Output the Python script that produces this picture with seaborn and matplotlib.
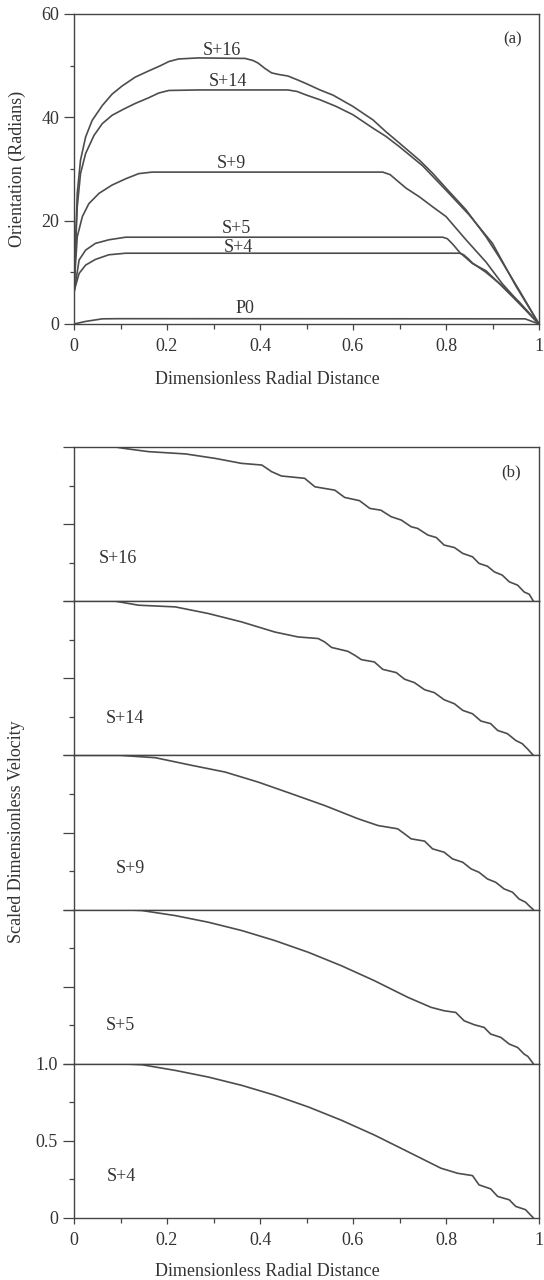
import numpy as np
import pandas as pd
import matplotlib
matplotlib.use("Agg")
import matplotlib.pyplot as plt
import seaborn as sns
from matplotlib.ticker import MultipleLocator, FixedLocator

sns.set_theme(style="ticks")
plt.rcParams['font.family'] = ['Liberation Serif', 'DejaVu Serif']

LINE = '#4d4d4d'
TXT = '#333333'
SPINE = '#444444'
FS = 13

# ---------------- panel (a) data: orientation ----------------
S16_x = [0, 0.004, 0.007, 0.014, 0.025, 0.039, 0.061, 0.082, 0.104, 0.132, 0.161, 0.186, 0.204, 0.225, 0.268, 0.368, 0.385, 0.396, 0.41, 0.425, 0.44, 0.46, 0.482, 0.5, 0.529, 0.557, 0.6, 0.643, 0.671, 0.7, 0.743, 0.771, 0.8, 0.843, 0.886, 0.914, 0.957, 1.0]
S16_y = [6, 17.5, 25.3, 31.7, 36.2, 39.4, 42.3, 44.5, 46.1, 47.8, 49.0, 50.0, 50.8, 51.3, 51.5, 51.4, 51.0, 50.5, 49.5, 48.6, 48.3, 48.0, 47.2, 46.5, 45.3, 44.3, 42.1, 39.5, 37.2, 35, 31.7, 29.2, 26.3, 22.1, 16.9, 13, 6.6, 0]
S14_x = [0, 0.004, 0.007, 0.014, 0.025, 0.043, 0.061, 0.082, 0.107, 0.132, 0.161, 0.182, 0.204, 0.268, 0.46, 0.48, 0.5, 0.529, 0.564, 0.6, 0.643, 0.671, 0.7, 0.75, 0.8, 0.85, 0.9, 0.95, 1.0]
S14_y = [6, 16.3, 22.7, 29.1, 33.0, 36.5, 38.8, 40.4, 41.6, 42.7, 43.8, 44.7, 45.2, 45.3, 45.3, 45.0, 44.3, 43.4, 42.1, 40.5, 37.9, 36.3, 34.3, 30.6, 25.9, 21.1, 15.6, 7.4, 0]
S9_x = [0, 0.002, 0.007, 0.018, 0.032, 0.054, 0.082, 0.111, 0.139, 0.168, 0.664, 0.68, 0.693, 0.714, 0.743, 0.771, 0.8, 0.843, 0.886, 0.921, 0.957, 1.0]
S9_y = [6, 9.8, 16.9, 20.8, 23.3, 25.3, 26.9, 28.1, 29.1, 29.4, 29.4, 28.9, 27.9, 26.3, 24.6, 22.7, 20.8, 16.3, 12.0, 7.8, 4.2, 0]
S5_x = [0, 0.001, 0.011, 0.025, 0.046, 0.075, 0.111, 0.146, 0.793, 0.803, 0.815, 0.829, 0.857, 0.886, 0.914, 0.957, 1.0]
S5_y = [6, 6.6, 12.4, 14.3, 15.6, 16.3, 16.8, 16.8, 16.8, 16.5, 15.4, 13.9, 11.7, 10.3, 7.9, 4, 0]
S4_x = [0, 0.001, 0.011, 0.025, 0.046, 0.075, 0.111, 0.829, 0.838, 0.848, 0.857, 0.886, 0.914, 0.957, 1.0]
S4_y = [6, 6.6, 9.8, 11.4, 12.5, 13.4, 13.7, 13.7, 13.4, 12.6, 11.8, 10.0, 7.9, 4.3, 0]
P0_x = [0, 0.025, 0.061, 0.096, 0.97, 1.0]
P0_y = [0, 0.5, 1.0, 1.03, 1.0, 0]

a_names = ['S+16', 'S+14', 'S+9', 'S+5', 'S+4', 'P0']
a_label_x = [0.318, 0.332, 0.339, 0.35, 0.354, 0.368]
a_label_y = [53.0, 46.9, 31.1, 18.5, 14.8, 3.0]

# ---------------- panel (b) data: scaled velocity ----------------
V16_x = [0, 0.089, 0.11, 0.16, 0.24, 0.304, 0.36, 0.404, 0.425, 0.446, 0.496, 0.518, 0.561, 0.582, 0.614, 0.636, 0.66, 0.682, 0.704, 0.725, 0.739, 0.761, 0.779, 0.796, 0.818, 0.836, 0.857, 0.871, 0.889, 0.904, 0.921, 0.936, 0.954, 0.968, 0.979, 0.988]
V16_y = [1.0, 1.0, 0.99, 0.97, 0.955, 0.926, 0.894, 0.883, 0.84, 0.812, 0.797, 0.742, 0.72, 0.673, 0.652, 0.602, 0.59, 0.548, 0.526, 0.483, 0.472, 0.429, 0.413, 0.364, 0.348, 0.31, 0.288, 0.245, 0.227, 0.19, 0.169, 0.126, 0.104, 0.06, 0.045, 0.0]
V14_x = [0, 0.089, 0.139, 0.218, 0.289, 0.36, 0.432, 0.482, 0.525, 0.539, 0.554, 0.589, 0.604, 0.618, 0.646, 0.664, 0.693, 0.711, 0.732, 0.754, 0.775, 0.796, 0.818, 0.836, 0.857, 0.875, 0.896, 0.911, 0.932, 0.95, 0.964, 0.975, 0.988]
V14_y = [1.0, 1.0, 0.974, 0.963, 0.92, 0.866, 0.8, 0.768, 0.758, 0.736, 0.7, 0.675, 0.649, 0.621, 0.606, 0.558, 0.537, 0.494, 0.472, 0.426, 0.407, 0.361, 0.335, 0.292, 0.27, 0.223, 0.206, 0.162, 0.141, 0.097, 0.076, 0.043, 0.0]
V9_x = [0, 0.1, 0.175, 0.254, 0.325, 0.396, 0.468, 0.539, 0.611, 0.654, 0.696, 0.711, 0.725, 0.754, 0.771, 0.796, 0.814, 0.836, 0.854, 0.871, 0.889, 0.907, 0.925, 0.943, 0.957, 0.971, 0.982, 0.988]
V9_y = [1.0, 1.0, 0.985, 0.935, 0.892, 0.827, 0.751, 0.675, 0.589, 0.545, 0.524, 0.491, 0.459, 0.444, 0.394, 0.372, 0.329, 0.307, 0.264, 0.242, 0.199, 0.177, 0.134, 0.113, 0.069, 0.048, 0.015, 0.0]
V5_x = [0, 0.1, 0.146, 0.218, 0.289, 0.361, 0.432, 0.504, 0.575, 0.646, 0.718, 0.768, 0.796, 0.821, 0.839, 0.861, 0.882, 0.896, 0.918, 0.936, 0.954, 0.968, 0.976, 0.988]
V5_y = [1.0, 1.0, 0.994, 0.961, 0.918, 0.864, 0.799, 0.723, 0.636, 0.539, 0.431, 0.366, 0.344, 0.333, 0.279, 0.253, 0.236, 0.193, 0.171, 0.128, 0.106, 0.063, 0.048, 0.0]
V4_x = [0, 0.1, 0.146, 0.218, 0.289, 0.361, 0.432, 0.504, 0.575, 0.646, 0.718, 0.789, 0.825, 0.857, 0.871, 0.896, 0.911, 0.936, 0.95, 0.971, 0.988]
V4_y = [1.0, 1.0, 0.994, 0.957, 0.914, 0.86, 0.796, 0.72, 0.634, 0.538, 0.43, 0.323, 0.29, 0.275, 0.215, 0.189, 0.14, 0.118, 0.075, 0.054, 0.0]

b_names = ['S+16', 'S+14', 'S+9', 'S+5', 'S+4']
b_label_x = [0.054, 0.068, 0.089, 0.068, 0.071]
b_label_y = [0.277, 0.24, 0.264, 0.247, 0.269]

x_ticks = [0, 0.2, 0.4, 0.6, 0.8, 1.0]
x_ticklabels = ['0', '0.2', '0.4', '0.6', '0.8', '1']
a_yticks = [0, 20, 40, 60]
a_yticklabels = ['0', '20', '40', '60']
b_yticks = [0, 0.5, 1.0]
b_yticklabels = ['0', '0.5', '1.0']

# ---------------- figure ----------------
W_PX, H_PX = 544, 1280
fig = plt.figure(figsize=(W_PX / 100, H_PX / 100), dpi=100)
fig.patch.set_facecolor('white')

LEFT, RIGHT = 74, 539


def rect(top_px, bot_px):
    return [LEFT / W_PX, 1 - bot_px / H_PX, (RIGHT - LEFT) / W_PX, (bot_px - top_px) / H_PX]


def style_axes(ax, ymaj_len=7, ymin_len=3):
    ax.set_facecolor('white')
    for s in ax.spines.values():
        s.set_visible(True)
        s.set_color(SPINE)
        s.set_linewidth(1.0)
    ax.tick_params(axis='both', which='both', direction='out', colors=SPINE,
                   labelcolor=TXT, labelsize=FS, width=0.9)
    ax.tick_params(axis='y', which='major', length=ymaj_len)
    ax.tick_params(axis='y', which='minor', length=ymin_len)
    ax.tick_params(axis='x', which='major', length=4, pad=6)
    ax.tick_params(axis='x', which='minor', length=3.5)
    ax.tick_params(top=False, right=False, which='both')
    ax.grid(False)


# panel (a)
ax_a = fig.add_axes(rect(14, 324))
a_curves = [(S16_x, S16_y), (S14_x, S14_y), (S9_x, S9_y), (S5_x, S5_y), (S4_x, S4_y), (P0_x, P0_y)]
for (xs, ys) in a_curves:
    sns.lineplot(x=xs, y=ys, ax=ax_a, color=LINE, linewidth=1.2, estimator=None, sort=False)
for name, lx, ly in zip(a_names, a_label_x, a_label_y):
    ax_a.text(lx, ly, name, ha='center', va='center', fontsize=FS, color=TXT)
ax_a.text(0.943, 55.1, '(a)', ha='center', va='center', fontsize=FS - 1, color=TXT)
ax_a.set_xlim(0, 1)
ax_a.set_ylim(0, 60)
ax_a.set_xticks(x_ticks)
ax_a.set_xticklabels(x_ticklabels)
ax_a.xaxis.set_minor_locator(MultipleLocator(0.1))
ax_a.set_yticks(a_yticks)
ax_a.set_yticklabels(a_yticklabels)
ax_a.yaxis.set_minor_locator(MultipleLocator(10))
ax_a.set_xlabel('')
ax_a.set_ylabel('')
style_axes(ax_a, ymaj_len=7, ymin_len=3)
fig.text(0.492, 1 - 380 / H_PX, 'Dimensionless Radial Distance', ha='center', va='center',
         fontsize=FS, color=TXT)
fig.text(17 / W_PX, 1 - 169 / H_PX, 'Orientation (Radians)', ha='center', va='center',
         rotation=90, fontsize=FS, color=TXT)

# panel (b)
b_curves = [(V16_x, V16_y), (V14_x, V14_y), (V9_x, V9_y), (V5_x, V5_y), (V4_x, V4_y)]
top_b, bot_b = 447, 1218
h = (bot_b - top_b) / 5
for i, ((xs, ys), name, lx, ly) in enumerate(zip(b_curves, b_names, b_label_x, b_label_y)):
    ax = fig.add_axes(rect(top_b + i * h, top_b + (i + 1) * h))
    sns.lineplot(x=xs, y=ys, ax=ax, color=LINE, linewidth=1.2, estimator=None, sort=False)
    ax.text(lx, ly, name, ha='left', va='center', fontsize=FS, color=TXT)
    ax.set_xlim(0, 1)
    ax.set_ylim(0, 1)
    ax.set_xticks(x_ticks)
    ax.xaxis.set_minor_locator(MultipleLocator(0.1))
    ax.set_yticks(b_yticks)
    ax.yaxis.set_minor_locator(FixedLocator([0.25, 0.75]))
    ax.set_xlabel('')
    ax.set_ylabel('')
    style_axes(ax, ymaj_len=8, ymin_len=3.5)
    if i == 4:
        ax.set_xticklabels(x_ticklabels)
        ax.set_yticklabels(b_yticklabels)
    else:
        ax.set_yticklabels([])
        ax.tick_params(axis='x', which='both', bottom=False, labelbottom=False)
    if i == 0:
        ax.text(0.939, 0.835, '(b)', ha='center', va='center', fontsize=FS - 1, color=TXT)

fig.text(0.492, 1 - 1272 / H_PX, 'Dimensionless Radial Distance', ha='center', va='center',
         fontsize=FS, color=TXT)
fig.text(17 / W_PX, 1 - 832 / H_PX, 'Scaled Dimensionless Velocity', ha='center', va='center',
         rotation=90, fontsize=FS, color=TXT)

fig.savefig('out.png', dpi=100, facecolor='white')
